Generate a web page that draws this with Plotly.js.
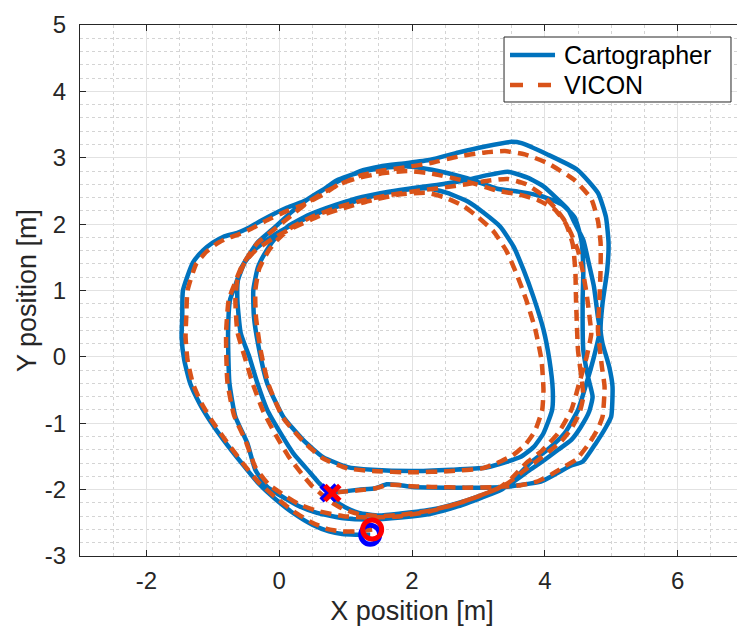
<!DOCTYPE html>
<html>
<head>
<meta charset="utf-8">
<script src="https://cdn.plot.ly/plotly-3.0.1.min.js"></script>
<style>
  html, body { margin: 0; padding: 0; overflow: hidden; background: #ffffff; }
  #plot { width: 760px; height: 628px; }
</style>
</head>
<body>
<div id="plot"></div>
<script>
// Trajectory estimated by Cartographer (metres)
const cartX = [
  1.37,1.15,0.95,0.75,0.5,0.22,-0.05,-0.3,-0.55,-0.84,
  -1.05,-1.2,-1.34,-1.43,-1.47,-1.46,-1.45,-1.3,-1.15,-1.0,
  -0.84,-0.63,-0.45,-0.24,0.12,0.36,0.62,0.87,1.18,1.52,
  1.93,2.3,2.8,3.3,3.6,3.95,4.25,4.45,4.55,4.58,
  4.57,4.58,4.65,4.72,4.67,4.54,4.4,4.2,4.0,3.78,
  3.5,3.3,3.0,2.7,2.3,1.83,1.5,1.2,1.0,0.85,
  0.75,0.6,0.47,0.21,0.02,-0.18,-0.33,-0.45,-0.58,-0.63,
  -0.62,-0.52,-0.36,-0.1,0.2,0.6,1.0,1.4,1.83,2.23,
  2.53,2.84,3.08,3.33,3.53,3.68,3.83,3.98,4.07,4.12,
  4.11,3.98,3.83,3.63,3.33,3.1,2.6,2.0,1.4,1.03,
  0.66,0.36,0.06,-0.18,-0.3,-0.38,-0.39,-0.32,-0.18,-0.05,
  0.15,0.45,0.85,1.25,1.65,2.05,2.45,2.8,3.1,3.44,
  3.74,3.98,4.2,4.35,4.45,4.58,4.66,4.74,4.8,4.83,
  4.74,4.63,4.5,4.3,4.04,3.8,3.55,3.35,3.05,2.7,
  2.3,1.83,1.37,0.97,0.57,0.3,0.1,-0.18,-0.36,-0.48,
  -0.66,-0.75,-0.77,-0.74,-0.66,-0.56,-0.33,-0.09,0.17,0.42,
  0.66,0.92,1.22,1.52,1.93,2.28,2.7,3.1,3.5,3.65,
  4.04,4.49,4.8,4.92,4.96,4.94,4.87,4.84,4.87,4.97,
  5.02,5.0,4.92,4.77,4.57,4.39,4.19,3.94,3.63,3.4,
  3.0,2.5,2.0,1.8,1.62,1.45,1.2,0.95,0.75
];
const cartY = [
  -2.68,-2.68,-2.67,-2.63,-2.53,-2.36,-2.15,-1.92,-1.62,-1.25,
  -0.95,-0.7,-0.4,-0.05,0.3,0.6,1.0,1.42,1.6,1.72,
  1.81,1.87,1.95,2.07,2.25,2.34,2.49,2.66,2.77,2.84,
  2.87,2.82,2.7,2.53,2.49,2.42,2.3,2.1,1.76,1.3,
  0.86,0.1,-0.3,-0.6,-0.82,-1.06,-1.25,-1.4,-1.55,-1.7,
  -1.9,-1.99,-2.1,-2.2,-2.3,-2.36,-2.39,-2.35,-2.27,-2.17,
  -2.05,-1.9,-1.75,-1.45,-1.15,-0.8,-0.39,0.0,0.36,0.86,
  1.16,1.42,1.62,1.82,1.99,2.17,2.3,2.42,2.51,2.54,
  2.47,2.34,2.17,1.96,1.66,1.31,0.9,0.41,-0.05,-0.5,
  -0.8,-1.15,-1.36,-1.51,-1.61,-1.67,-1.7,-1.72,-1.7,-1.66,
  -1.51,-1.25,-0.9,-0.4,0.1,0.6,1.0,1.35,1.62,1.8,
  1.98,2.14,2.29,2.41,2.49,2.55,2.6,2.66,2.73,2.79,
  2.7,2.57,2.37,2.22,2.02,1.76,1.42,1.06,0.6,0.4,
  0.0,-0.39,-0.8,-1.15,-1.4,-1.58,-1.83,-2.0,-2.12,-2.25,
  -2.36,-2.42,-2.45,-2.43,-2.35,-2.25,-2.14,-1.96,-1.7,-1.3,
  -0.9,-0.39,0.36,0.86,1.08,1.36,1.72,1.93,2.17,2.37,
  2.52,2.66,2.8,2.87,2.92,2.97,3.08,3.17,3.24,3.22,
  3.05,2.82,2.47,2.11,1.72,1.31,0.81,0.41,0.2,-0.15,
  -0.45,-0.9,-1.06,-1.3,-1.58,-1.64,-1.75,-1.88,-1.93,-1.96,
  -1.97,-1.97,-1.96,-1.93,-1.92,-1.98,-2.0,-2.03,-2.05
];

// Ground-truth trajectory from the VICON system (metres)
const viconX = [
  1.4,1.15,0.95,0.75,0.5,0.22,-0.05,-0.3,-0.55,-0.82,
  -1.02,-1.17,-1.3,-1.38,-1.41,-1.4,-1.38,-1.25,-1.1,-0.95,
  -0.8,-0.6,-0.42,-0.22,0.12,0.38,0.65,0.9,1.2,1.52,
  1.93,2.3,2.8,3.3,3.6,3.9,4.15,4.32,4.42,4.46,
  4.47,4.5,4.55,4.58,4.52,4.4,4.25,4.07,3.88,3.68,
  3.45,3.25,2.95,2.65,2.25,1.83,1.5,1.2,0.98,0.8,
  0.65,0.5,0.37,0.14,-0.05,-0.24,-0.4,-0.52,-0.63,-0.66,
  -0.63,-0.52,-0.36,-0.1,0.2,0.6,1.0,1.4,1.83,2.23,
  2.5,2.78,3.0,3.22,3.42,3.57,3.72,3.86,3.95,3.98,
  3.96,3.85,3.7,3.52,3.28,3.05,2.6,2.0,1.4,1.03,
  0.66,0.36,0.06,-0.16,-0.28,-0.35,-0.36,-0.3,-0.16,-0.03,
  0.17,0.47,0.87,1.27,1.67,2.07,2.47,2.82,3.12,3.44,
  3.72,3.95,4.15,4.3,4.4,4.5,4.57,4.63,4.68,4.7,
  4.63,4.52,4.4,4.2,3.95,3.72,3.5,3.3,3.0,2.65,
  2.25,1.83,1.37,0.97,0.57,0.3,0.1,-0.16,-0.36,-0.5,
  -0.68,-0.78,-0.8,-0.76,-0.68,-0.57,-0.34,-0.1,0.17,0.42,
  0.66,0.92,1.22,1.52,1.93,2.28,2.7,3.1,3.4,3.7,
  4.04,4.45,4.7,4.8,4.84,4.84,4.82,4.8,4.82,4.86,
  4.9,4.87,4.8,4.67,4.47,4.3,4.1,3.88,3.6,3.3,
  2.8,2.3,2.0,1.8,1.62,1.45,1.2,0.98,0.8
];
const viconY = [
  -2.6,-2.63,-2.63,-2.6,-2.5,-2.33,-2.12,-1.9,-1.6,-1.24,
  -0.95,-0.7,-0.4,-0.05,0.3,0.6,1.0,1.4,1.58,1.7,
  1.78,1.85,1.93,2.04,2.2,2.3,2.44,2.6,2.7,2.76,
  2.8,2.76,2.65,2.5,2.45,2.36,2.22,2.0,1.7,1.3,
  0.86,0.1,-0.3,-0.6,-0.85,-1.08,-1.27,-1.42,-1.57,-1.72,
  -1.9,-2.0,-2.12,-2.22,-2.32,-2.38,-2.4,-2.37,-2.3,-2.2,
  -2.08,-1.95,-1.8,-1.5,-1.18,-0.82,-0.4,0.0,0.38,0.86,
  1.16,1.42,1.6,1.78,1.94,2.12,2.25,2.36,2.45,2.47,
  2.4,2.27,2.1,1.9,1.6,1.26,0.86,0.4,-0.05,-0.5,
  -0.8,-1.12,-1.33,-1.48,-1.6,-1.68,-1.72,-1.74,-1.72,-1.68,
  -1.53,-1.27,-0.92,-0.42,0.1,0.6,1.0,1.33,1.6,1.76,
  1.94,2.1,2.25,2.36,2.44,2.5,2.55,2.6,2.65,2.68,
  2.6,2.45,2.25,2.05,1.85,1.6,1.3,0.95,0.55,0.35,
  0.0,-0.39,-0.8,-1.15,-1.42,-1.6,-1.83,-1.98,-2.1,-2.22,
  -2.33,-2.4,-2.42,-2.4,-2.32,-2.22,-2.1,-1.92,-1.66,-1.28,
  -0.88,-0.38,0.36,0.86,1.08,1.35,1.7,1.9,2.12,2.32,
  2.47,2.6,2.73,2.8,2.86,2.92,3.02,3.08,3.1,3.05,
  2.92,2.66,2.38,2.05,1.72,1.31,0.81,0.41,0.2,-0.15,
  -0.45,-0.9,-1.08,-1.3,-1.55,-1.65,-1.77,-1.88,-1.94,-1.96,
  -1.97,-1.96,-1.95,-1.93,-1.93,-1.98,-2.01,-2.03,-2.05
];

const seriesNames = ['Cartographer', 'VICON'];
const xTickVals = [-2, 0, 2, 4, 6];
const yTickVals = [-3, -2, -1, 0, 1, 2, 3, 4, 5];
const xRange = [-3, 7];
const yRange = [-3, 5];

const FONT = 'Liberation Sans, Arial, Helvetica, sans-serif';
const INK = '#262626';
const BLUE = '#0072BD';
const ORANGE = '#D95319';
const LINE_W = 4.5;
const DASH = '11px,7px';

const last = a => a[a.length - 1];
// plain hyphen-minus labels, e.g. "-2"
const tickText = vals => vals.map(v => String(v));

const traces = [
  {
    x: cartX, y: cartY, name: seriesNames[0], type: 'scatter', mode: 'lines',
    line: { color: BLUE, width: LINE_W, shape: 'spline', smoothing: 0.5 }
  },
  {
    x: viconX, y: viconY, name: seriesNames[1], type: 'scatter', mode: 'lines',
    line: { color: ORANGE, width: LINE_W, dash: DASH, shape: 'spline', smoothing: 0.5 }
  },
  // start points
  {
    x: [cartX[0]], y: [cartY[0]], type: 'scatter', mode: 'markers', showlegend: false,
    marker: { symbol: 'circle-open', size: 19, color: '#0000FF', line: { color: '#0000FF', width: 5 } }
  },
  {
    x: [viconX[0]], y: [viconY[0]], type: 'scatter', mode: 'markers', showlegend: false,
    marker: { symbol: 'circle-open', size: 19, color: '#FF0000', line: { color: '#FF0000', width: 5 } }
  },
  // end points
  {
    x: [last(cartX)], y: [last(cartY)], type: 'scatter', mode: 'markers', showlegend: false,
    marker: { symbol: 'x-thin-open', size: 15, color: '#0000FF', line: { color: '#0000FF', width: 6 } }
  },
  {
    x: [last(viconX)], y: [last(viconY)], type: 'scatter', mode: 'markers', showlegend: false,
    marker: { symbol: 'x-thin-open', size: 15, color: '#FF0000', line: { color: '#FF0000', width: 5 } }
  }
];

const axisCommon = {
  showline: true, linecolor: INK, linewidth: 1, mirror: 'ticks',
  ticks: 'inside', ticklen: 6, tickwidth: 1, tickcolor: INK,
  showgrid: true, gridcolor: '#e2e2e2', gridwidth: 1,
  zeroline: false,
  tickfont: { family: FONT, size: 24, color: INK }
};

// Legend box drawn in plot-area (paper) coordinates
const LEG = { x0: 0.6386, x1: 0.9804, y0: 0.855, y1: 0.9774,
              sx0: 0.6476, sx1: 0.7154, tx: 0.7259, row1: 0.9435, row2: 0.887 };

const legendShapes = [
  { type: 'rect', xref: 'paper', yref: 'paper', x0: LEG.x0, x1: LEG.x1, y0: LEG.y0, y1: LEG.y1,
    fillcolor: '#ffffff', line: { color: INK, width: 1 }, layer: 'above' },
  { type: 'line', xref: 'paper', yref: 'paper', x0: LEG.sx0, x1: LEG.sx1, y0: LEG.row1, y1: LEG.row1,
    line: { color: BLUE, width: LINE_W }, layer: 'above' },
  { type: 'line', xref: 'paper', yref: 'paper', x0: LEG.sx0, x1: LEG.sx1, y0: LEG.row2, y1: LEG.row2,
    line: { color: ORANGE, width: LINE_W, dash: '13px,15px' }, layer: 'above' }
];
const legendLabels = seriesNames.map((name, i) => ({
  xref: 'paper', yref: 'paper', x: LEG.tx, y: i === 0 ? LEG.row1 : LEG.row2,
  xanchor: 'left', yanchor: 'middle', showarrow: false, text: name,
  font: { family: FONT, size: 25, color: '#000000' }
}));

const layout = {
  width: 760, height: 628,
  margin: { l: 80, r: 16, t: 25, b: 72 },
  paper_bgcolor: '#ffffff', plot_bgcolor: '#ffffff',
  font: { family: FONT, color: INK },
  showlegend: false,
  xaxis: Object.assign({}, axisCommon, {
    range: xRange, tickvals: xTickVals, ticktext: tickText(xTickVals),
    ticklabelstandoff: 3,
    minor: { dtick: 0.5, showgrid: true, gridcolor: '#d4d4d4', griddash: 'dot', gridwidth: 1, ticks: '' },
    title: { text: 'X position [m]', font: { family: FONT, size: 27, color: INK }, standoff: 8 }
  }),
  yaxis: Object.assign({}, axisCommon, {
    range: yRange, tickvals: yTickVals, ticktext: tickText(yTickVals),
    ticklabelstandoff: 8,
    minor: { dtick: 0.2, showgrid: true, gridcolor: '#d4d4d4', griddash: 'dot', gridwidth: 1, ticks: '' },
    title: { text: 'Y position [m]', font: { family: FONT, size: 27, color: INK }, standoff: 0 }
  }),
  shapes: legendShapes,
  annotations: legendLabels
};

Plotly.newPlot('plot', traces, layout, { displayModeBar: false, staticPlot: true });
</script>
</body>
</html>
